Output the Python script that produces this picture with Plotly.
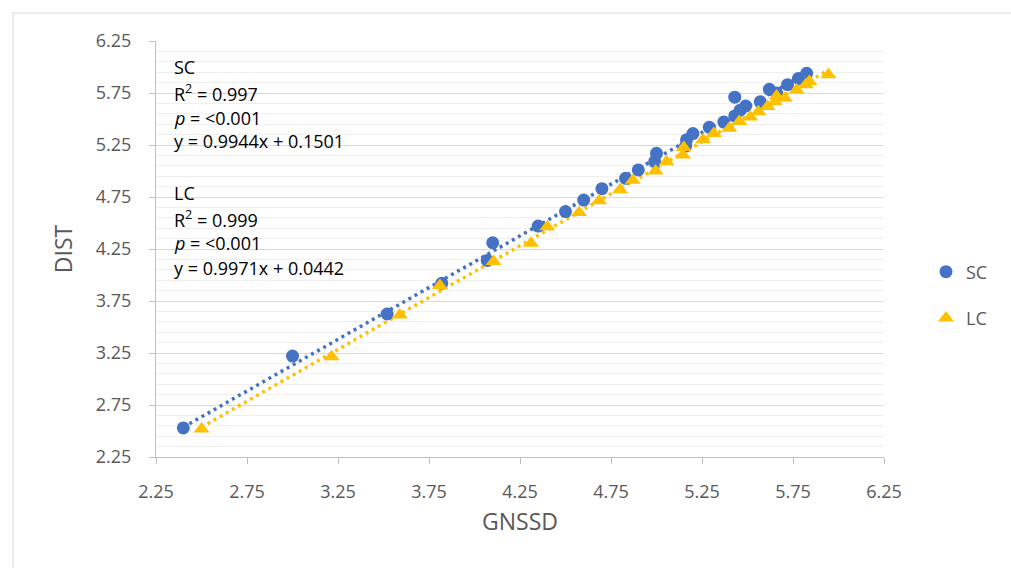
import plotly.graph_objects as go

# ---- data ----
sc_x = [2.40, 3.00, 3.52, 3.82, 4.07, 4.10, 4.35, 4.50, 4.60, 4.70, 4.83, 4.90, 4.99, 5.00,
        5.16, 5.165, 5.20, 5.29, 5.37, 5.43, 5.46, 5.49, 5.43, 5.57, 5.62, 5.66, 5.72, 5.78, 5.825]
sc_y = [2.53, 3.22, 3.625, 3.92, 4.14, 4.31, 4.47, 4.61, 4.72, 4.83, 4.93, 5.01, 5.09, 5.17,
        5.24, 5.30, 5.36, 5.42, 5.47, 5.53, 5.585, 5.625, 5.71, 5.665, 5.785, 5.75, 5.83, 5.89, 5.94]

lc_x = [2.50, 3.215, 3.59, 3.81, 4.105, 4.31, 4.40, 4.575, 4.685, 4.80, 4.87, 4.995, 5.055, 5.145,
        5.15, 5.255, 5.315, 5.40, 5.455, 5.515, 5.56, 5.61, 5.65, 5.66, 5.705, 5.77, 5.82, 5.84, 5.945]
lc_y = [2.52, 3.215, 3.615, 3.90, 4.13, 4.305, 4.465, 4.60, 4.715, 4.82, 4.91, 5.00, 5.09, 5.155,
        5.225, 5.30, 5.36, 5.41, 5.475, 5.52, 5.57, 5.62, 5.665, 5.72, 5.70, 5.78, 5.83, 5.86, 5.925]

sc_fit = (0.9944, 0.1501)
lc_fit = (0.9971, 0.0442)

stats_lines = [
    "SC",
    "R<sup>2</sup> = 0.997",
    "<i>p</i> = &lt;0.001",
    "y = 0.9944x + 0.1501",
    "LC",
    "R<sup>2</sup> = 0.999",
    "<i>p</i> = &lt;0.001",
    "y = 0.9971x + 0.0442",
]
stats_rows_px = [67, 93, 118, 141, 193, 219, 243, 268]

tick_vals = [2.25, 2.75, 3.25, 3.75, 4.25, 4.75, 5.25, 5.75, 6.25]
tick_text = ["2.25", "2.75", "3.25", "3.75", "4.25", "4.75", "5.25", "5.75", "6.25"]

BLUE = "#4472C4"
GOLD = "#FFC000"
FONT = "Open Sans"
GRAY_TXT = "#595959"

W, H = 1011, 568
L, R, T, B = 156, 127, 41, 111
PW, PH = W - L - R, H - T - B

fig = go.Figure()

for xs, (m, c), col in [(sc_x, sc_fit, BLUE), (lc_x, lc_fit, GOLD)]:
    x0, x1 = min(xs), max(xs)
    fig.add_trace(go.Scatter(
        x=[x0, x1], y=[m * x0 + c, m * x1 + c], mode="lines",
        line=dict(color=col, width=3.5, dash="3px,4px"),
        showlegend=False, hoverinfo="skip"))

fig.add_trace(go.Scatter(
    x=sc_x, y=sc_y, mode="markers", name="SC", legendgroup="sc",
    marker=dict(symbol="circle", size=13, color=BLUE)))
fig.add_trace(go.Scatter(
    x=lc_x, y=lc_y, mode="markers", name="LC", legendgroup="lc",
    marker=dict(symbol="triangle-up", size=14, color=GOLD)))

annotations = []
for txt, ypx in zip(stats_lines, stats_rows_px):
    annotations.append(dict(
        text=txt, xref="paper", yref="paper",
        x=(172 - L) / PW, y=(H - B - ypx) / PH,
        xanchor="left", yanchor="middle", showarrow=False,
        font=dict(family=FONT, size=18, color="#000000")))

axis_common = dict(
    range=[2.25, 6.25], tickvals=tick_vals, ticktext=tick_text,
    ticks="outside", ticklen=6, tickcolor="#BFBFBF", tickwidth=1,
    showline=True, linecolor="#BFBFBF", linewidth=1,
    zeroline=False,
    tickfont=dict(family=FONT, size=18, color=GRAY_TXT),
    fixedrange=True,
)

fig.update_layout(
    width=W, height=H,
    margin=dict(l=L, r=R, t=T, b=B, pad=0),
    paper_bgcolor="white", plot_bgcolor="white",
    xaxis=dict(**axis_common, showgrid=False, ticklabelstandoff=12,
               title=dict(text="GNSSD", font=dict(family=FONT, size=23, color=GRAY_TXT), standoff=12)),
    yaxis=dict(**axis_common, showgrid=True, gridcolor="#D9D9D9", gridwidth=1.3, ticklabelstandoff=14,
               minor=dict(dtick=0.1, tick0=2.25, showgrid=True, gridcolor="#EFEFEF", gridwidth=1.3, ticks=""),
               title=dict(text="DIST", font=dict(family=FONT, size=23, color=GRAY_TXT), standoff=16)),
    legend=dict(x=(926 - L) / PW, y=(H - B - 295) / PH, xanchor="left", yanchor="middle",
                font=dict(family=FONT, size=18, color=GRAY_TXT),
                tracegroupgap=20, itemwidth=30, bgcolor="rgba(0,0,0,0)"),
    annotations=annotations,
    shapes=[dict(type="rect", xref="paper", yref="paper",
                 x0=(13 - L) / PW, x1=(W + 5 - L) / PW,
                 y0=(H - B - (H + 5)) / PH, y1=(H - B - 13) / PH,
                 line=dict(color="#D9D9D9", width=1), layer="below")],
)

fig.write_html("out.html")
